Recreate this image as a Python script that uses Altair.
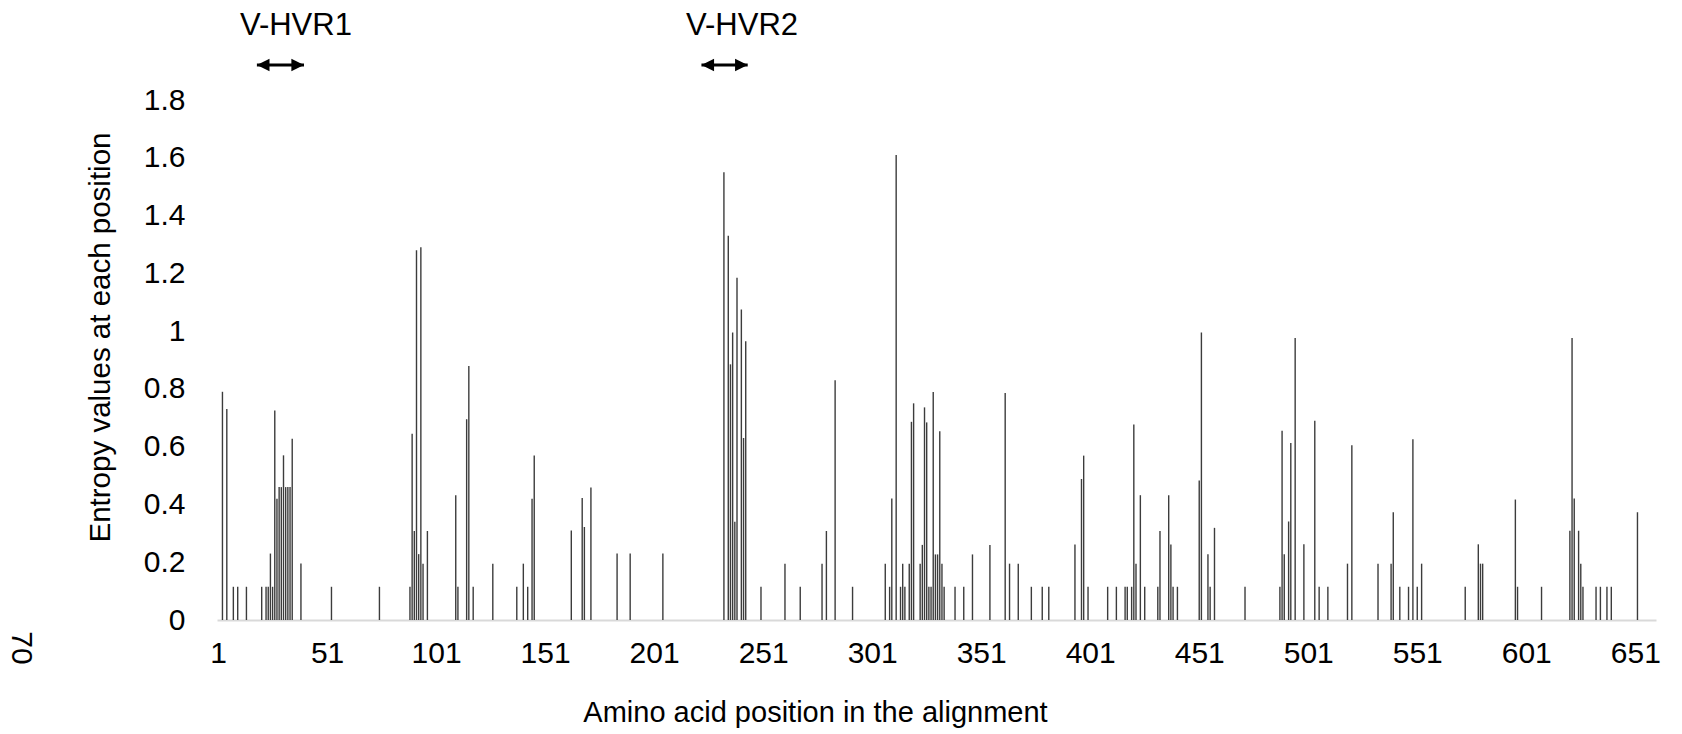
import altair as alt
import pandas as pd

# Amino acid positions and entropy values
positions = [3, 5, 8, 10, 14, 21, 23, 24, 25, 26, 27, 28, 29, 30, 31, 32, 33, 34, 35, 39,
             53, 75, 89, 90, 91, 92, 93, 94, 95, 97, 110, 111, 115, 116, 118, 127, 138, 141,
             143, 145, 146, 163, 168, 169, 172, 184, 190, 205, 233, 235, 236, 237, 238, 239,
             241, 242, 243, 250, 261, 268, 278, 280, 284, 292, 307, 309, 310, 312, 314, 315,
             316, 318, 319, 320, 323, 324, 325, 326, 327, 328, 329, 330, 331, 332, 333, 334,
             339, 343, 347, 355, 362, 364, 368, 374, 379, 382, 394, 397, 398, 400, 409, 413,
             417, 418, 420, 421, 422, 424, 426, 432, 433, 437, 438, 439, 441, 451, 452, 455,
             456, 458, 472, 488, 489, 490, 492, 493, 495, 499, 504, 506, 510, 519, 521, 533,
             539, 540, 543, 547, 549, 551, 553, 573, 579, 580, 581, 596, 597, 608, 621, 622,
             623, 625, 626, 627, 633, 635, 638, 640, 652]
entropy = [0.79, 0.73, 0.115, 0.115, 0.115, 0.115, 0.115, 0.115, 0.23, 0.115, 0.725, 0.42, 0.46,
           0.46, 0.57, 0.46, 0.46, 0.46, 0.627, 0.196,
           0.115, 0.115, 0.115, 0.645, 0.308, 1.28, 0.228, 1.29, 0.195, 0.308, 0.432, 0.115,
           0.695, 0.879, 0.115, 0.195, 0.115, 0.195,
           0.115, 0.42, 0.569, 0.31, 0.422, 0.322, 0.459, 0.23, 0.23, 0.23, 1.55, 1.33, 0.885,
           0.995, 0.34, 1.185,
           1.075, 0.63, 0.965, 0.115, 0.195, 0.115, 0.195, 0.308, 0.83, 0.115, 0.195, 0.115,
           0.421, 1.61, 0.115, 0.195,
           0.115, 0.195, 0.686, 0.75, 0.195, 0.26, 0.736, 0.684, 0.115, 0.115, 0.789, 0.227,
           0.227, 0.653, 0.195, 0.115,
           0.115, 0.115, 0.227, 0.26, 0.786, 0.195, 0.195, 0.115, 0.115, 0.115, 0.261, 0.488,
           0.569, 0.115, 0.115, 0.115,
           0.115, 0.115, 0.115, 0.677, 0.195, 0.432, 0.115, 0.115, 0.308, 0.432, 0.261, 0.115,
           0.115, 0.483, 0.995, 0.228,
           0.115, 0.319, 0.115, 0.115, 0.655, 0.228, 0.341, 0.613, 0.976, 0.262, 0.69, 0.115,
           0.115, 0.195, 0.605, 0.195,
           0.195, 0.373, 0.115, 0.115, 0.626, 0.115, 0.195, 0.115, 0.262, 0.195, 0.195, 0.417,
           0.115, 0.115, 0.309, 0.976,
           0.421, 0.309, 0.195, 0.115, 0.115, 0.115, 0.115, 0.115, 0.373]

# Hypervariable region annotations
region_labels = ["V-HVR1", "V-HVR2"]
region_start = [18.8, 222.7]
region_end = [40.4, 243.9]
region_label_pos = [36.7, 241.3]

x_ticks = [1, 51, 101, 151, 201, 251, 301, 351, 401, 451, 501, 551, 601, 651]
y_ticks = [0, 0.2, 0.4, 0.6, 0.8, 1.0, 1.2, 1.4, 1.6, 1.8]

page_number = ["70"]

FONT = "Liberation Sans"

df = pd.DataFrame({"pos": positions, "entropy": entropy})
df["base"] = 0.0
regions = pd.DataFrame({"label": region_labels, "start": region_start,
                        "end": region_end, "lpos": region_label_pos})

x_scale = alt.Scale(domain=[0.5, 660.5], nice=False, zero=False)
y_scale = alt.Scale(domain=[0, 1.8], nice=False, zero=True)

bars = alt.Chart(df).mark_rule(color="#3c3c3c", strokeWidth=1.4).encode(
    x=alt.X("pos:Q", scale=x_scale,
            axis=alt.Axis(values=x_ticks, format="d", title="Amino acid position in the alignment",
                          grid=False, ticks=False, domainColor="#d9d9d9", domainWidth=2,
                          labelFontSize=30, labelColor="#000000", labelPadding=18,
                          labelFont=FONT, titleFont=FONT, titleFontSize=29,
                          titleFontWeight="normal", titleColor="#000000",
                          titleX=598, titleY=92, titleBaseline="middle", titleAnchor="start",
                          titleAlign="center", labelFlush=False)),
    y=alt.Y("entropy:Q", scale=y_scale,
            axis=alt.Axis(values=y_ticks, format=".1~f", title="Entropy values at each position",
                          grid=False, ticks=False, domain=False,
                          labelFontSize=30, labelColor="#000000", labelPadding=32,
                          labelFont=FONT, titleFont=FONT, titleFontSize=29.5,
                          titleFontWeight="normal", titleColor="#000000",
                          titleX=-117, titleY=237, titleAngle=-90, titleAlign="center",
                          titleBaseline="middle", titleAnchor="start")),
    y2="base:Q",
)

arrow_line = alt.Chart(regions).mark_rule(color="#000000", strokeWidth=3).encode(
    x=alt.X("start:Q", scale=x_scale),
    x2="end:Q",
    y=alt.value(-35),
)

left_heads = alt.Chart(regions).mark_point(
    shape="M -1 0 L 1 -1 L 1 1 Z", filled=True, size=160, color="#000000",
    opacity=1, xOffset=6.3).encode(
    x=alt.X("start:Q", scale=x_scale),
    y=alt.value(-35),
)

right_heads = alt.Chart(regions).mark_point(
    shape="M 1 0 L -1 -1 L -1 1 Z", filled=True, size=160, color="#000000",
    opacity=1, xOffset=-6.3).encode(
    x=alt.X("end:Q", scale=x_scale),
    y=alt.value(-35),
)

labels = alt.Chart(regions).mark_text(
    font=FONT, fontSize=31, color="#000000", align="center", baseline="middle").encode(
    x=alt.X("lpos:Q", scale=x_scale),
    y=alt.value(-74),
    text="label:N",
)

page = alt.Chart(pd.DataFrame({"t": page_number})).mark_text(
    font=FONT, fontSize=30, color="#000000", angle=90, align="center",
    baseline="middle").encode(
    x=alt.value(-196),
    y=alt.value(548),
    text="t:N",
)

chart = alt.layer(bars, arrow_line, left_heads, right_heads, labels, page).properties(
    width=1439, height=520, autosize="none",
    padding={"left": 217, "top": 100, "right": 26, "bottom": 114},
    background="#ffffff",
).configure_view(stroke=None)

chart.save("out.html", embed_options={"renderer": "svg", "actions": False})
